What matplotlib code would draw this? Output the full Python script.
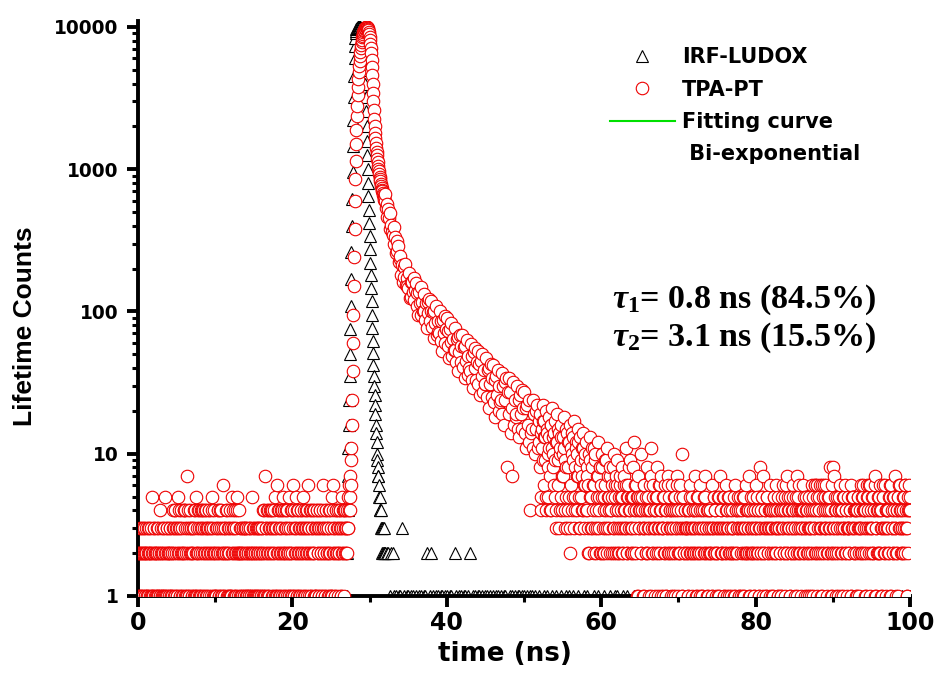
import matplotlib
matplotlib.use("Agg")
import matplotlib.pyplot as plt
from matplotlib.lines import Line2D
from matplotlib.ticker import LogLocator, NullFormatter, MultipleLocator
import numpy as np

# ── data: TCSPC decay histograms (counts per channel) ──
# IRF (LUDOX scatter), fine channels from 27.00 ns, 0.05 ns apart
irf_peak_start, irf_peak_dt = 27.0, 0.05
irf_peak = [0, 1, 2, 4, 7, 11, 16, 24, 35, 50,
            75, 110, 170, 260, 400, 620, 950, 1450, 2200, 3200,
            4500, 6000, 7400, 8400, 9000, 9400, 9650, 9800, 9900, 9950,
            10000, 9990, 9970, 9960, 9950, 9930, 9920, 9900, 9880, 9850,
            9800, 9750, 9700, 9300, 8800, 8000, 7000, 6000, 5000, 4000,
            3200, 2550, 2000, 1580, 1250, 1000, 800, 650, 520, 420,
            340, 275, 220, 180, 145, 118, 95, 77, 62, 51,
            42, 35, 30, 26, 22, 19, 16, 14, 12, 10,
            9, 8, 7, 7, 6, 5, 5, 4, 4, 3,
            4, 3, 3, 2, 3, 2, 2, 3, 2, 2]
# IRF after the pulse, channels from 32.0 ns, 0.2 ns apart (one digit per channel)
irf_post_start, irf_post_dt = 32.0, 0.2
irf_post = ("2221221101" "1310110110" "1011011201" "2101101101" "1011021011"
            "0110120110" "1101011010" "1011010110" "0110101101" "1010110100"
            "1001010010" "0100100101" "0010010001" "0100010010" "0010001001"
            "1000100100" "0101000100" "1000010010" "0010100001" "0100010100"
            "1001000010" "0010010001" "0100100100" "0001001010" "1000100001"
            "0010010100" "0100001001" "1001000100" "0010100010" "0100010001"
            "1000100100" "0010001010" "0101000100" "1000010010" "1")

# TPA-PT background before the pulse: channels from 0.00 ns and from 0.05 ns, 0.1 ns apart
tpa_pre_start, tpa_pre_dt = 0.0, 0.1
tpa_pre = ("2132123121" "3212312152" "1321231241" "2132152312" "1231241342"
           "3152134214" "2417321423" "1243152143" "2413421432" "1342135214"
           "2134214312" "6213241321" "3152341252" "1423123123" "2132132152"
           "3123121321" "2341273142" "1423412531" "6214324152" "3142315214"
           "2613521432" "1432513241" "6234123421" "3142314213" "6213423142"
           "1562314234" "2341523423")
tpa_pre_b_start = 0.05
tpa_pre_b = ("1213212312" "2131223121" "3122131213" "1213121321" "2312132413"
             "1243121324" "3121431231" "2314213241" "1324132143" "2413241321"
             "3124132413" "2132412314" "1243121342" "2312132131" "3121321213"
             "1213231231" "3124132413" "2341324132" "1432143214" "2314213241"
             "3142314213" "2413241324" "3124132413" "1432143214" "2314213241"
             "3142314213" "2413241342")
# TPA-PT around the peak, channels from 27.00 ns, 0.05 ns apart
tpa_peak_start, tpa_peak_dt = 27.0, 0.05
tpa_peak = [3, 4, 2, 3, 5, 3, 4, 6, 4, 5,
            7, 6, 9, 11, 16, 24, 38, 60, 95, 150,
            240, 380, 600, 850, 1150, 1500, 1900, 2350, 2800, 3300,
            3800, 4300, 4800, 5300, 5800, 6250, 6700, 7100, 7500, 7850,
            8150, 8450, 8700, 8950, 9150, 9350, 9500, 9650, 9780, 9880,
            9950, 10000, 10000, 9970, 9900, 9800, 9650, 9450, 9200, 8900,
            8550, 8100, 7600, 7100, 6550, 5900, 5250, 4600, 4000, 3450,
            3000, 2600, 2250, 2000, 1800, 1650, 1520, 1420, 1330, 1250,
            1180, 1120, 1060, 1010, 965, 925, 885, 850, 820, 790,
            765, 740, 718, 697, 678, 660, 643, 627, 612, 598]
# TPA-PT decay, channels from 32.0 ns, 0.1 ns apart
tpa_decay_start, tpa_decay_dt = 32.0, 0.1
tpa_decay = [671, 534, 572, 458, 522, 451, 493, 380, 406, 361,
             347, 390, 299, 332, 258, 311, 265, 288, 223, 234,
             247, 181, 213, 160, 206, 174, 214, 154, 173, 152,
             146, 186, 124, 162, 126, 162, 136, 171, 121, 141,
             158, 110, 135, 94, 137, 114, 148, 95, 117, 101,
             101, 132, 87, 114, 76, 117, 97, 123, 85, 101,
             118, 78, 99, 65, 100, 83, 110, 68, 86, 72,
             71, 101, 62, 85, 53, 87, 71, 93, 60, 75,
             90, 57, 73, 47, 75, 61, 83, 49, 64, 54,
             54, 77, 44, 64, 38, 66, 52, 68, 44, 57,
             68, 41, 56, 34, 57, 45, 63, 36, 49, 40,
             38, 59, 33, 49, 29, 52, 40, 55, 33, 44,
             53, 31, 43, 26, 45, 35, 50, 27, 39, 31,
             31, 47, 25, 39, 21, 40, 31, 43, 25, 34,
             42, 23, 33, 18, 35, 26, 39, 20, 30, 23,
             24, 37, 19, 30, 16, 32, 24, 34, 8, 27,
             34, 19, 27, 14, 7, 21, 32, 16, 24, 18,
             19, 30, 15, 24, 13, 26, 19, 28, 15, 21,
             27, 14, 21, 11, 22, 16, 24, 12, 4, 14,
             15, 24, 11, 19, 10, 20, 15, 22, 11, 17,
             12, 19, 4, 15, 22, 9, 17, 13, 5, 20,
             14, 8, 18, 11, 4, 16, 21, 10, 13, 6,
             17, 3, 12, 19, 9, 14, 4, 11, 16, 7,
             13, 10, 18, 4, 8, 15, 3, 12, 5, 16,
             2, 11, 14, 5, 9, 17, 4, 12, 7, 10,
             15, 3, 8, 13, 5, 11, 4, 14, 6, 9,
             12, 4, 7, 2, 10, 5, 13, 3, 8, 6,
             11, 2, 9, 4, 7, 3, 12, 5, 2, 8,
             6, 10, 3, 5, 2, 9, 4, 11, 3, 7,
             5, 2, 8, 4, 6, 3, 10, 2, 5, 7,
             3, 9, 4, 2, 6, 5, 3, 8, 2, 4,
             7, 3, 11, 5, 2, 6, 4, 9, 3, 5,
             2, 8, 12, 4, 3, 6, 1, 5, 7, 3,
             4, 2, 10, 5, 3, 1, 6, 4, 2, 8,
             3, 5, 1, 4, 7, 11, 2, 6, 3, 4,
             1, 5, 8, 3, 2, 6, 4, 1, 7, 3,
             5, 2, 4, 6, 1, 3, 7, 2, 5, 4,
             3, 1, 6, 2, 4, 5, 1, 3, 7, 2,
             4, 2, 6, 3, 1, 10, 5, 2, 4, 3]
# TPA-PT late decay, channels from 52.05 ns, 0.1 ns apart
tpa_late_b_start = 52.05
tpa_late_b = [8, 14, 5, 11, 17, 6, 13, 9, 4, 15,
              10, 5, 13, 7, 16, 4, 11, 8, 14, 5,
              9, 4, 12, 6, 15, 3, 10, 5, 13, 4,
              7, 11, 3, 9, 5, 14, 4, 8, 12, 3,
              6, 10, 4, 13, 3, 8, 5, 11, 4, 7,
              12, 5, 3, 9, 4, 7, 11, 3, 6, 10,
              4, 8, 3, 6, 2, 9, 5, 3, 11, 4,
              6, 3, 10, 2, 5, 7, 3, 4, 8, 2,
              5, 8, 2, 4, 6, 3, 9, 2, 5, 4,
              3, 7, 4, 2, 5, 8, 3, 6, 2, 4,
              6, 2, 5, 3, 7, 4, 2, 5, 3, 6,
              4, 3, 6, 2, 5, 8, 3, 4, 2, 5,
              3, 5, 2, 6, 4, 2, 5, 1, 3, 4,
              5, 2, 4, 3, 1, 6, 3, 5, 2, 4,
              2, 4, 3, 6, 1, 3, 5, 2, 4, 3,
              4, 2, 5, 1, 3, 6, 2, 4, 3, 1,
              3, 5, 2, 4, 1, 3, 6, 2, 4, 3,
              2, 4, 3, 1, 5, 2, 4, 3, 6, 1,
              3, 5, 2, 4, 1, 3, 5, 2, 4, 3]
# TPA-PT background tail: channels from 71.00 ns and from 71.05 ns, 0.1 ns apart
tpa_tail_start, tpa_tail_dt = 71.0, 0.1
tpa_tail = ("3241362534" "2371425362" "4135723412" "3426135243" "2531742351"
            "3624315234" "2316423513" "4235132642" "3174235214" "6324138253"
            "7243152364" "2314523641" "3421364253" "7234152364" "2351742341"
            "3462351423" "4236143625" "6342631562" "3642538142" "8374253146"
            "2431532435" "3246135243" "4135243256" "2341635264" "3524173245"
            "2634153264" "3425613425" "7324516342" "3456231456" "4")
tpa_tail_b_start = 71.05
tpa_tail_b = ("2314253142" "3425132413" "1342531243" "4231352412" "3153242315"
              "2413524132" "3521432415" "1342513243" "4213524312" "3524132451"
              "2341532413" "4125342315" "3241532146" "2453124352" "1342536243"
              "4251342315" "3124536241" "2543162435" "4312543216" "3251432453"
              "1425362413" "3241535241" "2453136254" "4132546312" "3524613425"
              "2413562341" "4325163254" "3142536423" "2536413245")

# bi-exponential fit, read along the centre of the decay
fit_t = [29.6, 30.0, 30.5, 31.0, 31.5, 32.0, 33.0, 34.0, 36.0, 38.0,
         40.0, 42.0, 44.0, 46.0, 48.0, 50.0, 55.0, 60.0]
fit_counts = [10000, 8550, 3000, 1180, 765, 600, 365, 215, 132, 95,
              70, 52, 40, 31, 25, 19.5, 12, 8]

labels = ["IRF-LUDOX", "TPA-PT", "Fitting curve", " Bi-exponential"]
tau_lines = [r"$\tau_1$= 0.8 ns (84.5%)", r"$\tau_2$= 3.1 ns (15.5%)"]


def channels(start, dt, counts):
    counts = np.array([int(c) for c in counts]) if isinstance(counts, str) else np.asarray(counts)
    t = start + dt * np.arange(len(counts))
    keep = counts > 0
    return t[keep], counts[keep]


def merge(segs):
    t = np.concatenate([s[0] for s in segs])
    c = np.concatenate([s[1] for s in segs])
    order = np.argsort(t, kind="stable")
    return t[order], c[order]


irf_t, irf_c = merge([channels(irf_peak_start, irf_peak_dt, irf_peak),
                      channels(irf_post_start, irf_post_dt, irf_post)])
tpa_t, tpa_c = merge([channels(tpa_pre_start, tpa_pre_dt, tpa_pre),
                      channels(tpa_pre_b_start, tpa_pre_dt, tpa_pre_b),
                      channels(tpa_peak_start, tpa_peak_dt, tpa_peak),
                      channels(tpa_decay_start, tpa_decay_dt, tpa_decay),
                      channels(tpa_late_b_start, tpa_decay_dt, tpa_late_b),
                      channels(tpa_tail_start, tpa_tail_dt, tpa_tail),
                      channels(tpa_tail_b_start, tpa_tail_dt, tpa_tail_b)])

plt.rcParams["font.family"] = "DejaVu Sans"
plt.rcParams["font.weight"] = "bold"
plt.rcParams["mathtext.fontset"] = "custom"
plt.rcParams["mathtext.rm"] = "Liberation Serif:bold"
plt.rcParams["mathtext.bf"] = "Liberation Serif:bold"
plt.rcParams["mathtext.it"] = "Liberation Serif:bold:italic"

fig = plt.figure(figsize=(9.35, 6.87), dpi=100)
ax = fig.add_axes([0.1476, 0.1325, 0.8257, 0.8369])

fit_line, = ax.plot(fit_t, fit_counts, color="#00e000", lw=1.5, zorder=1)
irf_line, = ax.plot(irf_t, irf_c, ls="none", marker="^", ms=9, mfc="white",
                    mec="black", mew=0.8, zorder=2)
tpa_line, = ax.plot(tpa_t, tpa_c, ls="none", marker="o", ms=9, mfc="white",
                    mec="#ee0000", mew=0.8, zorder=3)
blank = Line2D([], [], ls="none")

ax.set_yscale("log")
ax.set_xlim(0, 100)
ax.set_ylim(1, 11000)
ax.set_yticks([1, 10, 100, 1000, 10000])
ax.set_yticklabels(["1", "10", "100", "1000", "10000"])
ax.yaxis.set_minor_locator(LogLocator(base=10, subs=np.arange(2, 10)))
ax.yaxis.set_minor_formatter(NullFormatter())
ax.set_xticks([0, 20, 40, 60, 80, 100])
ax.xaxis.set_minor_locator(MultipleLocator(10))

for side in ["top", "right"]:
    ax.spines[side].set_visible(False)
for side in ["left", "bottom"]:
    ax.spines[side].set_linewidth(2.8)

ax.tick_params(which="major", direction="out", length=8, width=2.8)
ax.tick_params(which="minor", direction="out", length=4, width=2.2)
ax.tick_params(axis="y", labelsize=13.4, pad=6)
ax.tick_params(axis="x", labelsize=17, pad=3)

ax.set_xlabel("time (ns)", fontsize=18.8, fontweight="bold")
ax.xaxis.set_label_coords(0.475, -0.078)
ax.set_ylabel("Lifetime Counts", fontsize=19, fontweight="bold",
              family="Liberation Sans")
ax.yaxis.set_label_coords(-0.131, 0.47)

fig.legend([irf_line, tpa_line, fit_line, blank], labels,
           loc="upper left", bbox_to_anchor=(610 / 935, 1 - 47 / 687),
           frameon=False, fontsize=15, handlelength=3.1, handletextpad=0.34,
           labelspacing=0.6, borderpad=0, borderaxespad=0, numpoints=1)

for i, line in enumerate(tau_lines):
    fig.text(612 / 935, 1 - (300 + 38 * i) / 687, line, fontsize=24.5,
             family="Liberation Serif", fontweight="bold", va="center")

fig.savefig("out.png", dpi=100)
